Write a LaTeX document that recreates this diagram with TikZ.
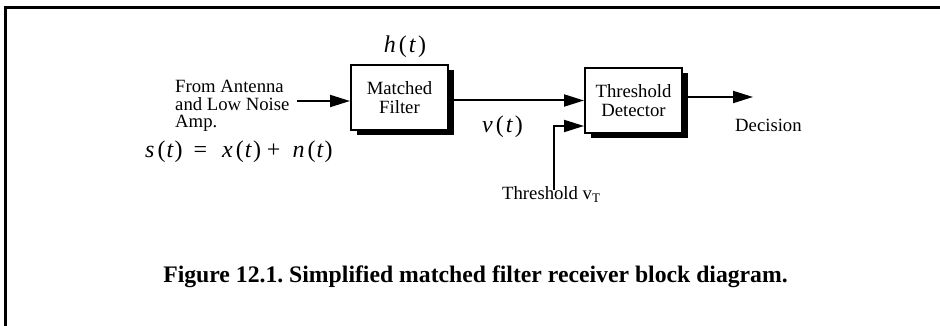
\documentclass[tikz,border=0pt]{standalone}
\usepackage{fontspec}
\setmainfont{Liberation Serif}
\usetikzlibrary{arrows.meta,shadows}
\frenchspacing
\newcommand\vi[1]{\textit{#1}}
\newcommand\fn[2]{\vi{#1}\kern3pt(\kern2pt\vi{#2}\kern2pt)}
\begin{document}
\begin{tikzpicture}[x=1pt,y=-1pt,
  lbl/.style={inner sep=0pt, font=\fontsize{18.7}{16}\selectfont},
  mth/.style={inner sep=0pt, font=\fontsize{24}{28}\selectfont},
  blk/.style={draw, line width=2pt, fill=white, minimum width=97pt, minimum height=65pt,
    inner sep=0pt, align=center, font=\fontsize{18.7}{19.5}\selectfont,
    drop shadow={shadow xshift=5.5pt, shadow yshift=-5.5pt, fill=black, opacity=1}},
  arr/.style={line width=2pt, -{Triangle[length=20pt,width=12pt]}},
  framestyle/.style={line width=3pt},
  captionstyle/.style={inner sep=0pt, font=\fontsize{23.7}{28}\selectfont\bfseries}]
\useasboundingbox (0,0) rectangle (940,326);
\draw[framestyle] (5.5,326) -- (5.5,7.5) -- (940,7.5);

\node[blk] (mf) at (399.5,97.5) {Matched\\Filter};
\node[blk] (td) at (633.5,100.5) {Threshold\\Detector};

\node[lbl, anchor=base west] (src) at (175,93)
  {\begin{tabular}[t]{@{}l@{}}From Antenna\\and Low Noise\\Amp.\end{tabular}};
\node[mth, anchor=base west] (sig) at (145,158)
  {\vi{s}\kern3pt(\kern1pt\vi{t}\kern1pt)\kern11pt=\kern15pt\vi{x}\kern3pt(\kern1pt\vi{t}\kern1pt)\kern6pt+\kern12pt\vi{n}\kern3pt(\kern1pt\vi{t}\kern1pt)};
\node[mth, anchor=base] (ht) at (405,53) {\fn{h}{t}};
\node[mth, anchor=base] (vt) at (502.5,133) {\fn{v}{t}};
\node[lbl, anchor=base west] (dec) at (735,132) {Decision};
\node[lbl, anchor=base west] (thl) at (502,200) {Threshold v\textsubscript{T}};
\node[captionstyle, anchor=base] (caption) at (475.5,282.5)
  {Figure 12.1. Simplified matched filter receiver block diagram.};

\coordinate (in) at (297,101);
\coordinate (out) at (753,97);
\coordinate (thr) at (554,190);

\draw[arr] (in) -- (in -| mf.west);
\draw[arr] (mf.east |- td.west) -- (td.west);
\draw[arr] (out -| td.east) -- (out);
\draw[arr] (thr) |- (td.west |- 0,126);
\end{tikzpicture}
\end{document}
